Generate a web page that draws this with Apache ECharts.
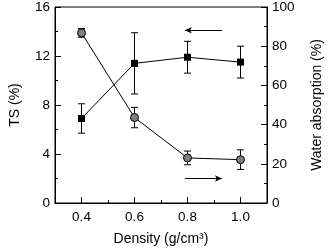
<!DOCTYPE html>
<html>
<head>
<meta charset="utf-8">
<script src="https://cdn.jsdelivr.net/npm/echarts@6/dist/echarts.min.js"></script>
<style>
  html, body { margin: 0; padding: 0; background: #fff; }
  #chart { width: 332px; height: 251px; }
</style>
</head>
<body>
<div id="chart"></div>
<script>
// values
var density = [0.4, 0.6, 0.8, 1.0];
var tsMean = [6.9, 11.4, 11.9, 11.5];
var tsErr = [1.2, 2.5, 1.3, 1.3];
var waMean = [86.8, 43.6, 23.0, 22.1];
var waErr = [2.2, 5.2, 3.5, 5.0];
var xMajor = [0.4, 0.6, 0.8, 1.0];
var xMinor = [0.5, 0.7, 0.9];

var FONT = 'Liberation Sans, Arial, sans-serif';

function pairs(xs, ys) {
  return xs.map(function (x, i) { return [x, ys[i]]; });
}
function errData(xs, m, e) {
  return xs.map(function (x, i) { return [x, m[i] - e[i], m[i] + e[i]]; });
}
// error bar with caps
function renderErr(params, api) {
  var x = api.value(0);
  var lo = api.coord([x, api.value(1)]);
  var hi = api.coord([x, api.value(2)]);
  var w = 3.5;
  var st = { stroke: '#000', lineWidth: 1 };
  return {
    type: 'group',
    children: [
      { type: 'line', shape: { x1: hi[0], y1: hi[1], x2: lo[0], y2: lo[1] }, style: st },
      { type: 'line', shape: { x1: hi[0] - w, y1: hi[1], x2: hi[0] + w, y2: hi[1] }, style: st },
      { type: 'line', shape: { x1: lo[0] - w, y1: lo[1], x2: lo[0] + w, y2: lo[1] }, style: st }
    ]
  };
}

var chart = echarts.init(document.getElementById('chart'), null, { renderer: 'canvas' });
var labelStyle = { color: '#000', fontFamily: FONT, fontSize: 13.5 };
var nameStyle = { color: '#000', fontFamily: FONT, fontSize: 14 };

var option = {
  animation: false,
  grid: {
    left: 47, right: 56, top: 7, bottom: 45,
    show: true, borderColor: '#000', borderWidth: 1, backgroundColor: 'transparent'
  },
  xAxis: [{
    type: 'value', min: 0.3, max: 1.1,
    name: 'Density (g/cm³)', nameLocation: 'middle', nameGap: 29,
    nameTextStyle: nameStyle,
    axisLine: { lineStyle: { color: '#000', width: 1 } },
    axisTick: { show: true, inside: true, length: 6, customValues: xMajor, lineStyle: { color: '#000' } },
    axisLabel: Object.assign({ customValues: xMajor, margin: 7, formatter: function (v) { return v.toFixed(1); } }, labelStyle),
    splitLine: { show: false }
  }, {
    type: 'value', min: 0.3, max: 1.1, position: 'bottom',
    axisLine: { show: false },
    axisTick: { show: true, inside: true, length: 3, customValues: xMinor, lineStyle: { color: '#000' } },
    axisLabel: { show: false },
    splitLine: { show: false }
  }],
  yAxis: [{
    type: 'value', min: 0, max: 16, interval: 4,
    name: 'TS (%)', nameLocation: 'middle', nameGap: 33,
    nameTextStyle: nameStyle,
    axisLine: { show: true, lineStyle: { color: '#000', width: 1 } },
    axisTick: { show: true, inside: true, length: 6, lineStyle: { color: '#000' } },
    minorTick: { show: true, splitNumber: 2, length: 3, lineStyle: { color: '#000' } },
    axisLabel: Object.assign({ margin: 5 }, labelStyle),
    splitLine: { show: false }
  }, {
    type: 'value', min: 0, max: 100, interval: 20, position: 'right',
    name: 'Water absorption (%)', nameLocation: 'middle', nameGap: 43, nameRotate: 90,
    nameTextStyle: nameStyle,
    axisLine: { show: true, lineStyle: { color: '#000', width: 1 } },
    axisTick: { show: true, inside: true, length: 6, lineStyle: { color: '#000' } },
    minorTick: { show: true, splitNumber: 2, length: 3, lineStyle: { color: '#000' } },
    axisLabel: Object.assign({ margin: 5 }, labelStyle),
    splitLine: { show: false }
  }],
  series: [{
    type: 'custom', name: 'tsErr', xAxisIndex: 0, yAxisIndex: 0, z: 1,
    renderItem: renderErr, encode: { x: 0, y: [1, 2] },
    data: errData(density, tsMean, tsErr)
  }, {
    type: 'custom', name: 'waErr', xAxisIndex: 0, yAxisIndex: 1, z: 1,
    renderItem: renderErr, encode: { x: 0, y: [1, 2] },
    data: errData(density, waMean, waErr)
  }, {
    type: 'line', name: 'TS', xAxisIndex: 0, yAxisIndex: 0, z: 3,
    data: pairs(density, tsMean),
    symbol: 'rect', symbolSize: 7,
    itemStyle: { color: '#000' },
    lineStyle: { color: '#000', width: 1 },
    markLine: {
      silent: true, symbol: ['none', 'arrow'], symbolSize: [5, 7],
      lineStyle: { color: '#000', width: 1, type: 'solid' },
      label: { show: false },
      data: [
        [{ coord: [0.93, 14.1] }, { coord: [0.79, 14.1] }],
        [{ coord: [0.79, 2.0] }, { coord: [0.93, 2.0] }]
      ]
    }
  }, {
    type: 'line', name: 'Water absorption', xAxisIndex: 0, yAxisIndex: 1, z: 3,
    data: pairs(density, waMean),
    symbol: 'circle', symbolSize: 8,
    itemStyle: { color: '#7f7f7f', borderColor: '#000', borderWidth: 1 },
    lineStyle: { color: '#000', width: 1 }
  }]
};
chart.setOption(option);
</script>
</body>
</html>
